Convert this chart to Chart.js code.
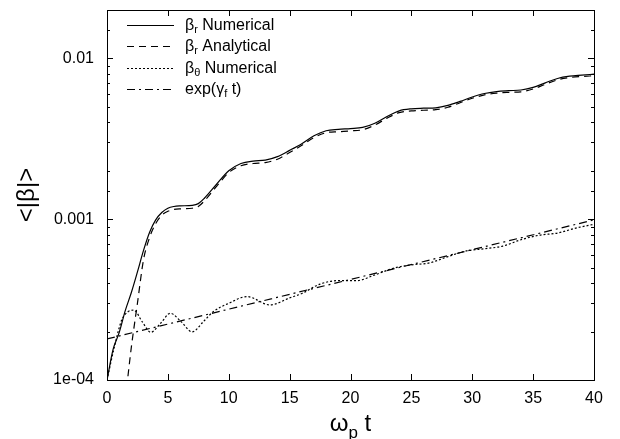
<!DOCTYPE html>
<html>
<head>
    <meta charset="UTF-8">
    <title>&lt;|β|&gt; vs ωp t</title>
    <script src="https://cdn.jsdelivr.net/npm/chart.js"></script>
    <style>
        body { margin: 0; background: #fff; }
        canvas { display: block; }
    </style>
</head>
<body>
    <canvas id="chart" width="620" height="439"></canvas>
    <script>
        // beta_r numerical (solid)
        const tNum = [0, 0.5, 1, 1.5, 2, 2.5, 3, 3.5, 4, 4.5, 5, 5.5, 6, 7, 7.5, 8, 9, 10, 11, 12, 13, 14, 15, 16, 17, 18, 19, 20,
                      21, 22, 23, 24, 25, 26, 27, 28, 29, 30, 31, 32, 33, 34, 35, 36, 37, 38, 39, 40];
        const betaRNum = [1.0e-4, 1.55e-4, 1.97e-4, 2.7e-4, 3.5e-4, 4.7e-4, 6.4e-4, 8.3e-4, 9.9e-4, 1.10e-3, 1.17e-3, 1.20e-3, 1.21e-3,
                          1.22e-3, 1.25e-3, 1.35e-3, 1.65e-3, 2.0e-3, 2.22e-3, 2.30e-3, 2.33e-3, 2.45e-3, 2.68e-3, 2.95e-3, 3.3e-3,
                          3.55e-3, 3.62e-3, 3.66e-3, 3.72e-3, 3.95e-3, 4.35e-3, 4.72e-3, 4.86e-3, 4.90e-3, 4.93e-3, 5.1e-3, 5.4e-3,
                          5.75e-3, 6.05e-3, 6.22e-3, 6.3e-3, 6.36e-3, 6.6e-3, 7.05e-3, 7.5e-3, 7.75e-3, 7.87e-3, 7.98e-3];

        // beta_r analytical (dashed)
        const tAna = [1.5, 2, 2.5, 3, 3.5, 4, 4.5, 5, 5.5, 6, 7, 7.5, 8, 9, 10, 11, 12, 13, 14, 15, 16, 17, 18, 19, 20,
                      21, 22, 23, 24, 25, 26, 27, 28, 29, 30, 31, 32, 33, 34, 35, 36, 37, 38, 39, 40];
        const betaRAna = [7.5e-5, 1.6e-4, 3.0e-4, 5.6e-4, 7.7e-4, 9.4e-4, 1.06e-3, 1.12e-3, 1.15e-3, 1.16e-3, 1.17e-3, 1.20e-3,
                          1.30e-3, 1.60e-3, 1.95e-3, 2.15e-3, 2.22e-3, 2.25e-3, 2.36e-3, 2.6e-3, 2.88e-3, 3.22e-3, 3.45e-3,
                          3.50e-3, 3.54e-3, 3.60e-3, 3.85e-3, 4.25e-3, 4.6e-3, 4.72e-3, 4.76e-3, 4.80e-3, 4.97e-3, 5.3e-3,
                          5.65e-3, 5.93e-3, 6.08e-3, 6.15e-3, 6.2e-3, 6.45e-3, 6.9e-3, 7.35e-3, 7.6e-3, 7.72e-3, 7.8e-3];

        // beta_theta numerical (dotted)
        const tTheta = [0, 0.6, 1.2, 1.7, 2.2, 2.9, 3.6, 4.4, 5.2, 6.1, 7.0, 7.9, 8.7, 10, 11.5, 13.4, 15, 16, 17.5, 19, 20.5,
                        22, 23.5, 25, 26.5, 28, 29.5, 31, 32.5, 34, 35.5, 37, 38.5, 40];
        const betaTheta = [1.0e-4, 1.6e-4, 2.35e-4, 2.65e-4, 2.72e-4, 2.3e-4, 1.98e-4, 2.25e-4, 2.6e-4, 2.3e-4, 1.99e-4, 2.3e-4,
                           2.65e-4, 3.0e-4, 3.3e-4, 2.93e-4, 3.24e-4, 3.45e-4, 3.95e-4, 4.15e-4, 4.15e-4, 4.5e-4, 4.95e-4,
                           5.2e-4, 5.35e-4, 5.85e-4, 6.35e-4, 6.55e-4, 6.8e-4, 7.45e-4, 7.95e-4, 8.2e-4, 8.8e-4, 9.3e-4];

        // exp(gamma_f t) (dash-dot), straight on the log axis
        const tExp = [0, 40];
        const expFit = [1.8e-4, 9.9e-4];

        const xTicks = [0, 5, 10, 15, 20, 25, 30, 35, 40];
        const yTickValues = [1e-4, 1e-3, 1e-2];
        const yTickLabels = ['1e-04', '0.001', '0.01'];

        const FONT = "'Liberation Sans', Arial, sans-serif";
        Chart.defaults.font.family = FONT;
        Chart.defaults.color = '#000';

        function pts(xs, ys) {
            return xs.map((x, i) => ({ x: x, y: ys[i] }));
        }

        // text with subscripts: parts = [[text, isSub], ...]
        function drawRich(ctx, parts, x, y, size) {
            let cx = x;
            parts.forEach(p => {
                const sub = p[1];
                ctx.font = (sub ? Math.round(size * 0.7) : size) + 'px ' + FONT;
                ctx.fillText(p[0], cx, sub ? y + size * 0.3 : y);
                cx += ctx.measureText(p[0]).width;
            });
            return cx - x;
        }
        function richWidth(ctx, parts, size) {
            let w = 0;
            parts.forEach(p => {
                ctx.font = (p[1] ? Math.round(size * 0.7) : size) + 'px ' + FONT;
                w += ctx.measureText(p[0]).width;
            });
            return w;
        }

        const legendItems = [
            { dash: [], parts: [['β', false], ['r', true], [' Numerical', false]] },
            { dash: [7, 5], parts: [['β', false], ['r', true], [' Analytical', false]] },
            { dash: [2, 2], parts: [['β', false], ['θ', true], [' Numerical', false]] },
            { dash: [8, 4, 2, 4], parts: [['exp(γ', false], ['f', true], [' t)', false]] }
        ];

        const framePlugin = {
            id: 'frame',
            afterDraw(chart) {
                const ctx = chart.ctx;
                const a = chart.chartArea;
                const xs = chart.scales.x, ys = chart.scales.y;
                ctx.save();
                ctx.strokeStyle = '#000';
                ctx.lineWidth = 1;
                ctx.setLineDash([]);
                ctx.strokeRect(a.left + 0.5, a.top + 0.5, a.right - a.left, a.bottom - a.top);

                // inward ticks on all four sides
                ctx.beginPath();
                xs.ticks.forEach(t => {
                    const px = Math.round(xs.getPixelForValue(t.value)) + 0.5;
                    ctx.moveTo(px, a.bottom); ctx.lineTo(px, a.bottom - 6);
                    ctx.moveTo(px, a.top); ctx.lineTo(px, a.top + 6);
                });
                ys.ticks.forEach(t => {
                    const py = Math.round(ys.getPixelForValue(t.value)) + 0.5;
                    const major = yTickValues.some(v => Math.abs(v - t.value) / v < 1e-6);
                    const len = major ? 6 : 3;
                    ctx.moveTo(a.left, py); ctx.lineTo(a.left + len, py);
                    ctx.moveTo(a.right, py); ctx.lineTo(a.right - len, py);
                });
                ctx.stroke();

                // legend
                ctx.fillStyle = '#000';
                ctx.textBaseline = 'middle';
                ctx.textAlign = 'left';
                legendItems.forEach((it, i) => {
                    const y = Math.round(25 + i * 21.3) + 0.5;
                    ctx.beginPath();
                    ctx.setLineDash(it.dash);
                    ctx.lineWidth = 1;
                    ctx.moveTo(127, y); ctx.lineTo(174, y);
                    ctx.stroke();
                    ctx.setLineDash([]);
                    drawRich(ctx, it.parts, 185, y, 16);
                });

                // axis titles
                const xTitle = [['ω', false], ['p', true], [' t', false]];
                ctx.textBaseline = 'alphabetic';
                const w = richWidth(ctx, xTitle, 24);
                drawRich(ctx, xTitle, (a.left + a.right) / 2 - w / 2, 431, 24);

                ctx.translate(34, (a.top + a.bottom) / 2);
                ctx.rotate(-Math.PI / 2);
                ctx.font = '24px ' + FONT;
                ctx.textAlign = 'center';
                ctx.fillText('<|β|>', 0, 0);
                ctx.restore();
            }
        };

        const lineStyle = {
            borderColor: '#000',
            borderWidth: 1.2,
            pointRadius: 0,
            fill: false,
            cubicInterpolationMode: 'monotone'
        };

        new Chart(document.getElementById('chart'), {
            type: 'line',
            data: {
                datasets: [
                    Object.assign({ label: 'βr Numerical', data: pts(tNum, betaRNum), borderDash: [] }, lineStyle),
                    Object.assign({ label: 'βr Analytical', data: pts(tAna, betaRAna), borderDash: [7, 5] }, lineStyle),
                    Object.assign({ label: 'βθ Numerical', data: pts(tTheta, betaTheta), borderDash: [2, 2] }, lineStyle),
                    Object.assign({ label: 'exp(γf t)', data: pts(tExp, expFit), borderDash: [8, 4, 2, 4] }, lineStyle)
                ]
            },
            options: {
                responsive: false,
                animation: false,
                layout: { padding: { left: 0, right: 26, top: 10, bottom: 0 } },
                plugins: {
                    legend: { display: false },
                    tooltip: { enabled: false }
                },
                scales: {
                    x: {
                        type: 'linear',
                        min: 0,
                        max: 40,
                        afterBuildTicks: s => { s.ticks = xTicks.map(v => ({ value: v })); },
                        grid: { display: false, drawTicks: false },
                        border: { display: false },
                        ticks: { font: { size: 16 }, padding: 9, maxRotation: 0 },
                        afterFit: s => { s.height = 59; s.paddingLeft = 0; s.paddingRight = 0; }
                    },
                    y: {
                        type: 'logarithmic',
                        min: 1e-4,
                        max: 0.02,
                        grid: { display: false, drawTicks: false },
                        border: { display: false },
                        ticks: {
                            autoSkip: false,
                            font: { size: 16 },
                            padding: 13,
                            callback: v => {
                                const i = yTickValues.findIndex(t => Math.abs(t - v) / t < 1e-6);
                                return i >= 0 ? yTickLabels[i] : '';
                            }
                        },
                        afterFit: s => { s.width = 107; s.paddingTop = 0; s.paddingBottom = 0; }
                    }
                }
            },
            plugins: [framePlugin]
        });
    </script>
</body>
</html>
